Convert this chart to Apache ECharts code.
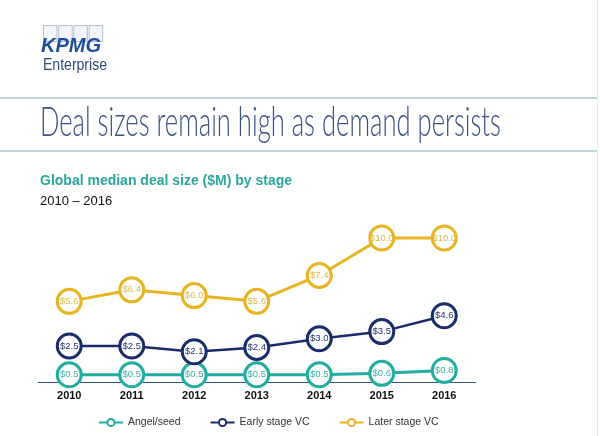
<!DOCTYPE html>
<html>
<head>
<meta charset="utf-8">
<script src="https://cdn.jsdelivr.net/npm/echarts@6/dist/echarts.min.js"></script>
<style>
html,body{margin:0;padding:0;background:#fff;}
#c{width:600px;height:436px;}
</style>
</head>
<body>
<div id="c"></div>
<script>
// Data
var years = ['2010', '2011', '2012', '2013', '2014', '2015', '2016'];
var seriesNames = ['Angel/seed', 'Early stage VC', 'Later stage VC'];
var angelSeed = [0.5, 0.5, 0.5, 0.5, 0.5, 0.6, 0.8];
var earlyStage = [2.5, 2.5, 2.1, 2.4, 3.0, 3.5, 4.6];
var laterStage = [5.6, 6.4, 6.0, 5.6, 7.4, 10.0, 10.0];

var colors = ['#22ada1', '#1b2c6b', '#e7b422'];
var labelColors = ['#3bb3a8', '#24336f', '#dcbb4f'];

function measure(text, font) {
  var cv = document.createElement('canvas').getContext('2d');
  cv.font = font;
  return cv.measureText(text).width;
}

var titleText = 'Deal sizes remain high as demand persists';
var titleFont = '300 41px Lato';
var titleScale = 461 / measure(titleText, titleFont);
var entFont = '16px "Liberation Sans"';
var entScale = 64 / measure('Enterprise', entFont);

var chart = echarts.init(document.getElementById('c'), null, {renderer: 'canvas'});

function mkSeries(i, data) {
  return {
    name: seriesNames[i],
    type: 'line',
    data: data,
    clip: false,
    symbol: 'circle',
    symbolSize: 24,
    z: 3 + i,
    lineStyle: {color: colors[i], width: i === 1 ? 2.5 : 3},
    itemStyle: {color: '#fff', borderColor: colors[i], borderWidth: 3},
    label: {
      show: true,
      position: 'inside',
      formatter: function (p) { return '$' + p.value.toFixed(1); },
      color: labelColors[i],
      fontFamily: 'Liberation Sans',
      fontSize: 9.5
    },
    emphasis: {disabled: true}
  };
}

var boxes = [];
for (var b = 0; b < 4; b++) {
  boxes.push({
    type: 'rect',
    shape: {x: 43.5 + b * 15.2, y: 25.5, width: 13.5, height: 16},
    style: {fill: '#f3f5f9', stroke: '#b3bfd1', lineWidth: 1},
    z: 1
  });
}

var option = {
  backgroundColor: '#ffffff',
  animation: false,
  grid: {left: 38, right: 124.5, top: 209.2, bottom: 54},
  xAxis: {
    type: 'category',
    data: years,
    boundaryGap: true,
    axisLine: {show: true, lineStyle: {color: '#33507e', width: 1}},
    axisTick: {show: false},
    axisLabel: {
      color: '#111',
      fontWeight: 'bold',
      fontSize: 11,
      fontFamily: 'Liberation Sans',
      margin: 8
    },
    splitLine: {show: false}
  },
  yAxis: {
    type: 'value',
    min: 0,
    max: 12,
    show: false,
    splitLine: {show: false}
  },
  legend: {
    data: seriesNames,
    left: 93,
    top: 412,
    itemWidth: 24,
    itemHeight: 9,
    itemGap: 29,
    textStyle: {color: '#333', fontSize: 10.5, fontFamily: 'Liberation Sans'},
    itemStyle: {borderWidth: 2}
  },
  series: [mkSeries(0, angelSeed), mkSeries(1, earlyStage), mkSeries(2, laterStage)],
  graphic: boxes.concat([
    {
      type: 'text',
      x: 41, y: 46, z: 2,
      style: {text: 'KPMG', x: 0, y: 0, font: 'italic bold 20px "Liberation Sans"', fill: '#1c4f9e', verticalAlign: 'middle'}
    },
    {
      type: 'text',
      x: 43, y: 66, scaleX: entScale, z: 2,
      style: {text: 'Enterprise', x: 0, y: 0, font: entFont, fill: '#2f4a78', verticalAlign: 'middle'}
    },
    {
      type: 'line',
      shape: {x1: 0, y1: 98, x2: 598, y2: 98},
      style: {stroke: '#bcd8d8', lineWidth: 2}
    },
    {
      type: 'line',
      shape: {x1: 0, y1: 151, x2: 598, y2: 151},
      style: {stroke: '#bcd8d8', lineWidth: 2}
    },
    {
      type: 'line',
      shape: {x1: 597.5, y1: 0, x2: 597.5, y2: 436},
      style: {stroke: '#e8e8e8', lineWidth: 1}
    },
    {
      type: 'text',
      x: 40, y: 123, scaleX: titleScale,
      style: {text: titleText, x: 0, y: 0, font: titleFont, fill: '#3d5283', verticalAlign: 'middle'}
    },
    {
      type: 'text',
      x: 40, y: 181,
      style: {text: 'Global median deal size ($M) by stage', x: 0, y: 0, font: 'bold 14px "Liberation Sans"', fill: '#2aa89e', verticalAlign: 'middle'}
    },
    {
      type: 'text',
      x: 40, y: 201,
      style: {text: '2010 \u2013 2016', x: 0, y: 0, font: '13px "Liberation Sans"', fill: '#111', verticalAlign: 'middle'}
    }
  ])
};

chart.setOption(option);
</script>
</body>
</html>
